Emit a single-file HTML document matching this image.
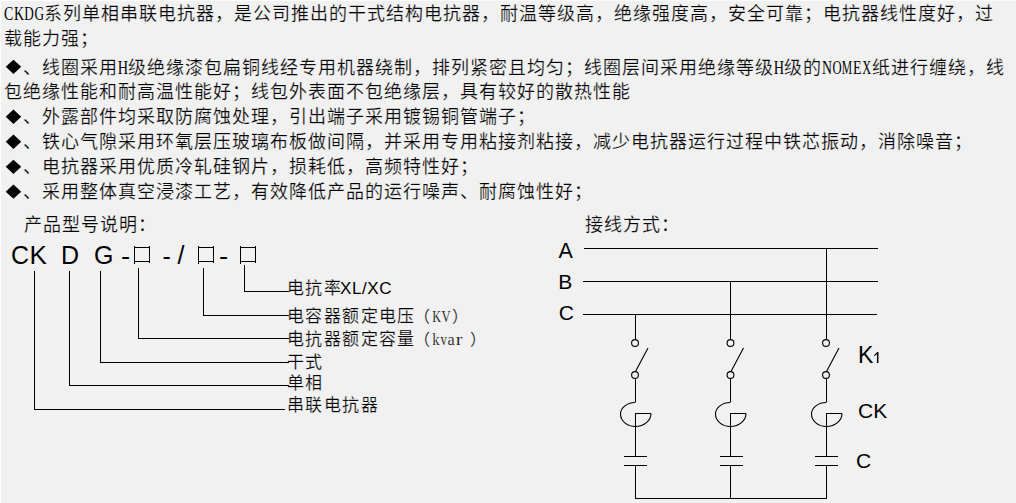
<!DOCTYPE html>
<html lang="zh-CN">
<head>
<meta charset="utf-8">
<style>
html,body{margin:0;padding:0;}
body{width:1016px;height:503px;overflow:hidden;background:#f1f1f1;position:relative;
 font-family:"Liberation Serif",serif;color:#000;text-spacing-trim:space-all;text-autospace:no-autospace;-webkit-text-stroke:0.2px #f1f1f1;}
#edge{position:absolute;left:0;top:0;width:1016px;height:503px;box-sizing:border-box;border-top:1px solid #fcfcfc;border-left:1px solid #fcfcfc;}
#txt{position:absolute;left:4px;top:1px;font-size:18px;letter-spacing:1px;line-height:25px;white-space:nowrap;}
#txt div{height:25px;}
b.c{-webkit-text-stroke:0;display:inline-block;font-weight:normal;font-size:19px;letter-spacing:0;white-space:nowrap;transform-origin:0 0;}
.D{display:inline-block;width:19px;}
.lab{position:absolute;white-space:nowrap;line-height:1;}
.ar{font-family:"Liberation Sans",sans-serif;-webkit-text-stroke:0;}
svg{position:absolute;left:0;top:0;}
</style>
</head>
<body>
<div id="edge"></div>
<div id="txt">
<div><b class="c" style="width:10px;transform:translateX(0.08px) scaleX(0.728)">C</b><b class="c" style="width:10px;transform:translateX(-0.05px) scaleX(0.732)">K</b><b class="c" style="width:10px;transform:translateX(0.37px) scaleX(0.693)">D</b><b class="c" style="width:10px;transform:translateX(0.41px) scaleX(0.696)">G</b>系列单相串联电抗器，是公司推出的干式结构电抗器，耐温等级高，绝缘强度高，安全可靠；电抗器线性度好，过</div>
<div style="margin-top:1px">载能力强；</div>
<div style="margin-top:3px"><span class="D"></span>、线圈采用<b class="c" style="width:10px;transform:translateX(-0.16px) scaleX(0.753)">H</b>级绝缘漆包扁铜线经专用机器绕制，排列紧密且均匀；线圈层间采用绝缘等级<b class="c" style="width:10px;transform:translateX(-0.16px) scaleX(0.753)">H</b>级的<b class="c" style="width:10px;transform:translateX(-0.05px) scaleX(0.730)">N</b><b class="c" style="width:10px;transform:translateX(0.53px) scaleX(0.666)">O</b><b class="c" style="width:10px;transform:translateX(-0.19px) scaleX(0.614)">M</b><b class="c" style="width:10px;transform:translateX(1.05px) scaleX(0.722)">E</b><b class="c" style="width:10px;transform:translateX(0.28px) scaleX(0.648)">X</b>纸进行缠绕，线</div>
<div>包绝缘性能和耐高温性能好；线包外表面不包绝缘层，具有较好的散热性能</div>
<div><span class="D"></span>、外露部件均采取防腐蚀处理，引出端子采用镀锡铜管端子；</div>
<div><span class="D"></span>、铁心气隙采用环氧层压玻璃布板做间隔，并采用专用粘接剂粘接，减少电抗器运行过程中铁芯振动，消除噪音；</div>
<div><span class="D"></span>、电抗器采用优质冷轧硅钢片，损耗低，高频特性好；</div>
<div><span class="D"></span>、采用整体真空浸漆工艺，有效降低产品的运行噪声、耐腐蚀性好；</div>
</div>

<svg width="1016" height="503" viewBox="0 0 1016 503">
<g fill="#000">
<polygon points="5.7,66.85 13.45,59.70 21.2,66.85 13.45,74.00"/>
<polygon points="5.7,116.75 13.45,109.60 21.2,116.75 13.45,123.90"/>
<polygon points="5.7,141.75 13.45,134.60 21.2,141.75 13.45,148.90"/>
<polygon points="5.7,166.8 13.45,159.65 21.2,166.8 13.45,173.95"/>
<polygon points="5.7,191.7 13.45,184.55 21.2,191.7 13.45,198.85"/>
</g>
<g stroke="#000" stroke-width="1" fill="none" shape-rendering="crispEdges">
<path d="M134.5 246V263.5M149.5 246V263M134.5 247.5H150M134.5 261.5H150"/>
<path d="M198.5 246V263.5M213.5 246V263M198.5 247.5H214M198.5 261.5H214"/>
<path d="M240.5 246V263.5M255.5 246V263M240.5 247.5H256M240.5 261.5H256"/>
<path d="M34.5 271V409.5H285"/>
<path d="M69.5 271V385.5H289"/>
<path d="M100.5 271V362.5H289"/>
<path d="M138.5 268V338.5H289"/>
<path d="M203.5 268V315.5H289"/>
<path d="M244.5 265V291.5H289"/>
<path d="M584 248.5H878"/>
<path d="M583 281.5H878"/>
<path d="M583 314.5H877"/>
<path d="M635.5 314V339"/>
<path d="M730.5 281V339"/>
<path d="M826.5 248V339"/>
<path d="M635.5 378.5V402M635.5 413V456M635.5 465V498.5H826.5V465M826.5 378.5V402M826.5 413V456M730.5 378.5V402M730.5 413V456M730.5 465V498"/>
<path d="M624 456.5H647M624 465.5H647M719.5 456.5H742.5M719.5 465.5H742.5M815 456.5H838M815 465.5H838"/>
<path d="M651 413.5H635.5M746 413.5H730.5M842 413.5H826.5"/>
</g>
<g stroke="#000" stroke-width="1.1" fill="none">
<circle cx="635" cy="343" r="3.4"/>
<circle cx="635" cy="375" r="3.4"/>
<circle cx="730.5" cy="343" r="3.4"/>
<circle cx="730.5" cy="375" r="3.4"/>
<circle cx="826" cy="343" r="3.4"/>
<circle cx="826" cy="375" r="3.4"/>
<path d="M877.7 352V363" stroke-width="1.5"/>
<path d="M877.6 352.6L874.4 355.6" stroke-width="1.3"/>
<path d="M648 348L635.5 371.5M743.5 348L731 371.5M839 348L826.5 371.5"/>
<path d="M635.5 402.5A15 11.5 0 0 0 620.5 414A15 12.5 0 0 0 635.5 426.5A15.5 13 0 0 0 651.0 413.5"/>
<path d="M730.5 402.5A15 11.5 0 0 0 715.5 414A15 12.5 0 0 0 730.5 426.5A15.5 13 0 0 0 746.0 413.5"/>
<path d="M826.5 402.5A15 11.5 0 0 0 811.5 414A15 12.5 0 0 0 826.5 426.5A15.5 13 0 0 0 842.0 413.5"/>
</g>
</svg>

<div class="lab" style="left:24px;top:216px;font-size:18px;letter-spacing:1px;">产品型号说明：</div>
<div class="lab" style="left:585px;top:216px;font-size:18px;letter-spacing:1px;">接线方式：</div>

<div class="lab ar" style="left:11px;top:243px;font-size:25px;">C</div>
<div class="lab ar" style="left:29.5px;top:242px;font-size:26px;">K</div>
<div class="lab ar" style="left:61px;top:243px;font-size:25px;">D</div>
<div class="lab ar" style="left:94px;top:243px;font-size:25px;">G</div>
<div class="lab ar" style="left:120.5px;top:243.5px;font-size:25px;transform:scaleX(1.1);transform-origin:0 0">-</div>
<div class="lab ar" style="left:162.5px;top:243.5px;font-size:25px;">-</div>
<div class="lab ar" style="left:177.5px;top:243px;font-size:25px;">/</div>
<div class="lab ar" style="left:218.5px;top:243.5px;font-size:25px;transform:scaleX(1.1);transform-origin:0 0">-</div>

<div class="lab" style="left:287px;top:280px;font-size:17px;letter-spacing:1.4px;">电抗率</div>
<div class="lab ar" style="left:340px;top:279.5px;font-size:17px;letter-spacing:0.6px;">XL/XC</div>
<div class="lab" style="left:287px;top:308px;font-size:17px;letter-spacing:1.4px;">电容器额定电压</div>
<div class="lab" style="left:413.5px;top:309px;font-size:16px;">（</div>
<div class="lab" style="left:432px;top:308.5px;font-size:16px;"><b class="c" style="font-size:16px;-webkit-text-stroke:0.2px #f1f1f1;width:9px;transform:translateX(0.20px) scaleX(0.759)">K</b><b class="c" style="font-size:16px;-webkit-text-stroke:0.2px #f1f1f1;width:9px;transform:translateX(0.41px) scaleX(0.786)">V</b></div>
<div class="lab" style="left:452px;top:309px;font-size:16px;">）</div>
<div class="lab" style="left:287px;top:331px;font-size:17px;letter-spacing:1.4px;">电抗器额定容量</div>
<div class="lab" style="left:413.5px;top:332px;font-size:16px;">（</div>
<div class="lab" style="left:432px;top:332px;font-size:16px;"><b class="c" style="font-size:16px;-webkit-text-stroke:0.2px #f1f1f1;width:8px;transform:translateX(0.27px) scaleX(0.923)">k</b><b class="c" style="font-size:16px;-webkit-text-stroke:0.2px #f1f1f1;width:8px;transform:translateX(0.55px) scaleX(0.800)">v</b><b class="c" style="font-size:16px;-webkit-text-stroke:0.2px #f1f1f1;width:8px;transform:translateX(-0.42px) scaleX(1.013)">a</b><b class="c" style="font-size:16px;-webkit-text-stroke:0.2px #f1f1f1;width:8px;transform:translateX(-0.16px) scaleX(1.274)">r</b></div>
<div class="lab" style="left:470px;top:332px;font-size:16px;">）</div>
<div class="lab" style="left:287px;top:354px;font-size:17px;letter-spacing:1.4px;">干式</div>
<div class="lab" style="left:287px;top:375px;font-size:17px;letter-spacing:1.4px;">单相</div>
<div class="lab" style="left:287px;top:397px;font-size:17px;letter-spacing:1.4px;">串联电抗器</div>

<div class="lab ar" style="left:558.6px;top:241.4px;font-size:21.5px;">A</div>
<div class="lab ar" style="left:558.3px;top:271px;font-size:21px;">B</div>
<div class="lab ar" style="left:558.7px;top:302px;font-size:21px;">C</div>
<div class="lab ar" style="left:858px;top:344px;font-size:23px;">K</div>
<div class="lab ar" style="left:858px;top:400px;font-size:21px;">CK</div>
<div class="lab ar" style="left:856px;top:450px;font-size:21px;">C</div>
</body>
</html>
